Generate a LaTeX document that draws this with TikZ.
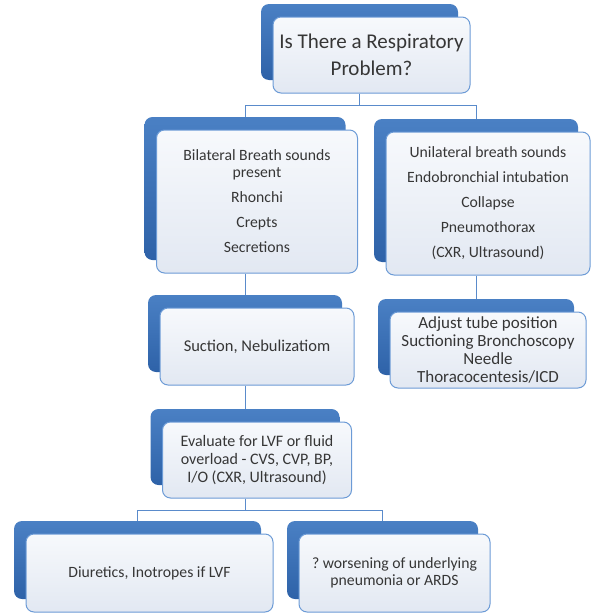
\documentclass[tikz,border=0pt]{standalone}
\usepackage{fontspec}
\setmainfont{Carlito}
\usepackage{tikz}
\usetikzlibrary{shadows}

\definecolor{backtop}{HTML}{4A80C4}
\definecolor{backbot}{HTML}{2E62A8}
\definecolor{facetop}{HTML}{F7F9FC}
\definecolor{facebot}{HTML}{E2E8F2}
\definecolor{rim}{HTML}{6C9BD6}
\definecolor{wire}{HTML}{5A8BCB}
\definecolor{ink}{HTML}{363636}

\begin{document}
\begin{tikzpicture}[
  x=1pt, y=-1pt,
  card/.style={draw=rim, line width=1pt, rounded corners=8pt,
    top color=facetop, bottom color=facebot, align=center, text=ink,
    font=\fontsize{15.7}{17}\selectfont, inner sep=2pt,
    general shadow={shadow xshift=-12pt, shadow yshift=13pt,
      top color=backtop, bottom color=backbot, draw=none}},
  link/.style={draw=wire, line width=1pt}
]
\useasboundingbox (0,0) rectangle (591,613);

\node[card, minimum width=197pt, minimum height=76pt,
  font=\fontsize{21}{27}\selectfont] (problem) at (371.5,55)
  {Is There a Respiratory\\Problem?};

\node[card, minimum width=201pt, minimum height=143pt] (bilateral) at (257,201.5)
  {Bilateral Breath sounds\\present\\[8pt]Rhonchi\\[8pt]Crepts\\[8pt]Secretions};
\node[card, minimum width=204pt, minimum height=143pt] (unilateral) at (488,203.5)
  {Unilateral breath sounds\\[8pt]Endobronchial intubation\\[8pt]Collapse\\[8pt]Pneumothorax\\[8pt](CXR, Ultrasound)};

\node[card, minimum width=194pt, minimum height=77pt,
  font=\fontsize{16.5}{18}\selectfont] (suction) at (257,346.5)
  {Suction, Nebulizatiom};
\node[card, minimum width=196pt, minimum height=76pt,
  font=\fontsize{17}{17.7}\selectfont] (adjust) at (488,350)
  {Adjust tube position\\Suctioning Bronchoscopy\\Needle\\Thoracocentesis/ICD};

\node[card, minimum width=189pt, minimum height=76pt,
  font=\fontsize{16}{18}\selectfont] (evaluate) at (257,460)
  {Evaluate for LVF or fluid\\overload - CVS, CVP, BP,\\I/O (CXR, Ultrasound)};

\node[card, minimum width=247pt, minimum height=78pt] (diuretics) at (149.5,573)
  {Diuretics, Inotropes if LVF};
\node[card, minimum width=191pt, minimum height=78pt] (worsening) at (394.5,573)
  {?\ worsening of underlying\\pneumonia or ARDS};

% tree wiring, from the back panels
\draw[link] ([xshift=-12pt]problem.south) -- ++(0,-12pt) -| ([shift={(-12pt,13pt)}]bilateral.north);
\draw[link] ([xshift=-12pt]problem.south) -- ++(0,-12pt) -| ([shift={(-12pt,13pt)}]unilateral.north);
\draw[link] ([xshift=-12pt]bilateral.south) -- ([shift={(-12pt,13pt)}]suction.north);
\draw[link] ([xshift=-12pt]unilateral.south) -- ([shift={(-12pt,13pt)}]adjust.north);
\draw[link] ([xshift=-12pt]suction.south) -- ([shift={(-12pt,13pt)}]evaluate.north);
\draw[link] ([xshift=-12pt]evaluate.south) -- ++(0,-12pt) -| ([shift={(-12pt,13pt)}]diuretics.north);
\draw[link] ([xshift=-12pt]evaluate.south) -- ++(0,-12pt) -| ([shift={(-12pt,13pt)}]worsening.north);
\end{tikzpicture}
\end{document}
